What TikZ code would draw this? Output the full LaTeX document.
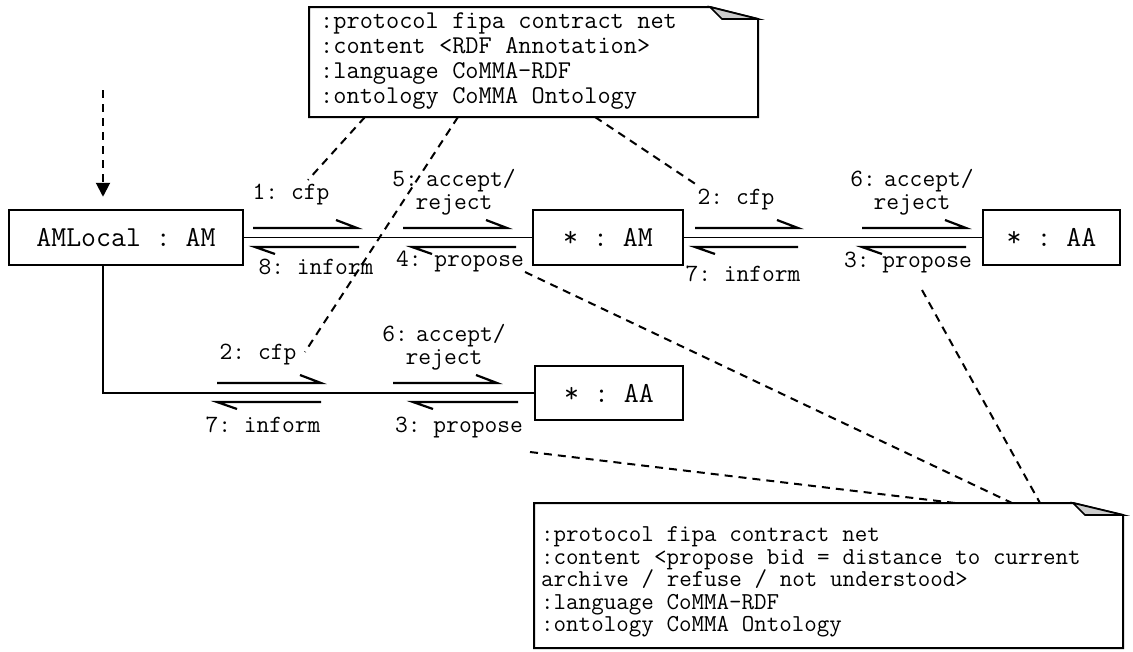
\documentclass[tikz,border=0pt]{standalone}
\usepackage{fontspec}
\usetikzlibrary{arrows.meta}
\newcommand\cour{\ttfamily\frenchspacing}
\newcommand\notespc{\spaceskip=0.525em\relax\xspaceskip=0.525em\relax}
\begin{document}
\frenchspacing
\begin{tikzpicture}[x=1pt,y=-1pt,
  box/.style={draw,line width=2.5pt,minimum height=55pt,inner sep=0pt,font=\cour\fontsize{29}{32}\selectfont},
  lbl/.style={inner sep=0pt,anchor=base,font=\cour\fontsize{24.8}{23}\selectfont},
  lbltwo/.style={lbl,text width=160pt,align=center},
  notetxt/.style={inner sep=0pt,anchor=base west,align=left},
  link/.style={line width=1.8pt},
  msg/.style={line width=2.2pt},
  notelink/.style={line width=2pt,dash pattern=on 8pt off 6pt},
  noteedge/.style={line width=2pt,line join=miter},
  fold/.style={draw,line width=1.6pt,fill=black!20}
]
\useasboundingbox (0,0) rectangle (1133,651);

% boxes
\node[box,minimum width=234pt] (am) at (126,237.5) {AMLocal : AM};
\node[box,minimum width=150pt] (sam) at (608,237.5) {* : AM};
\node[box,minimum width=137pt] (saa) at (1051.5,237.5) {* : AA};
\node[box,minimum width=148pt,minimum height=54pt] (saab) at (609,393) {* : AA};

% incoming dashed arrow
\coordinate (src) at (103,90);
\draw[notelink,-{Triangle[width=14pt,length=14pt]}] (src) -- ([yshift=12pt]src |- am.north);

% links
\draw[link] (am.east) -- (sam.west);
\draw[link] (sam.east) -- (saa.west);
\draw[link] (src |- am.south) |- (saab.west);

% message half arrows
\newcommand\msgR[3]{\draw[msg] (#1,#3) -- (#2,#3) -- ++(-21,-8);}
\newcommand\msgL[3]{\draw[msg] (#2,#3) -- (#1,#3) -- ++(20,7);}
\msgR{253}{357}{228}
\msgR{403}{507}{228}
\msgL{255}{359}{247}
\msgL{412}{516}{247}
\msgR{695}{798}{228}
\msgR{862}{966}{228}
\msgL{695}{798}{247}
\msgL{862}{966}{247}
\msgR{217}{321}{383}
\msgR{393}{497}{383}
\msgL{217}{321}{402}
\msgL{413}{518}{402}

% labels
\node[lbl] (l1) at (291,199.5) {1: cfp};
\node[lbltwo] (l5) at (454,186.5) {5: accept/\\reject};
\node[lbl] (l8) at (316,274.5) {8: inform};
\node[lbl] (l4) at (460,266.5) {4: propose};
\node[lbl] (l2a) at (736,204.5) {2: cfp};
\node[lbl] (l7a) at (743,281.5) {7: inform};
\node[lbltwo] (l6a) at (912,186.5) {6: accept/\\reject};
\node[lbl] (l3a) at (908,267.5) {3: propose};
\node[lbl] (l2b) at (258,359.5) {2: cfp};
\node[lbltwo] (l6b) at (444,341.5) {6: accept/\\reject};
\node[lbl] (l7b) at (263,432.5) {7: inform};
\node[lbl] (l3b) at (459,432.5) {3: propose};

% top note
\draw[noteedge] (309,7) -- (710,7) -- (758,19) -- (758,117) -- (309,117) -- cycle;
\draw[fold] (710,7) -- (722,19) -- (758,19) -- cycle;
\node[notetxt,text width=430pt,font=\cour\fontsize{25.6}{25}\selectfont] (n1) at (320,28.5)
  {\notespc :protocol fipa contract net\\:content <RDF Annotation>\\:language CoMMA-RDF\\:ontology CoMMA Ontology};

% bottom note
\draw[noteedge] (534,503) -- (1073,503) -- (1123,515) -- (1123,648) -- (534,648) -- cycle;
\draw[fold] (1073,503) -- (1085,515) -- (1123,515) -- cycle;
\node[notetxt,text width=580pt,font=\cour\fontsize{24.3}{22.5}\selectfont] (n2) at (541,541.5)
  {\notespc :protocol fipa contract net\\:content <propose bid = distance to current\\archive / refuse / not understood>\\:language CoMMA-RDF\\:ontology CoMMA Ontology};

% note anchors
\draw[notelink] (365,117) -- (308,180);
\draw[notelink] (458,117) -- (305,352);
\draw[notelink] (595,117) -- (697,185);
\draw[notelink] (530,452) -- (955,503);
\draw[notelink] (525,272) -- (1012,503);
\draw[notelink] (922,290) -- (1040,503);
\end{tikzpicture}
\end{document}
